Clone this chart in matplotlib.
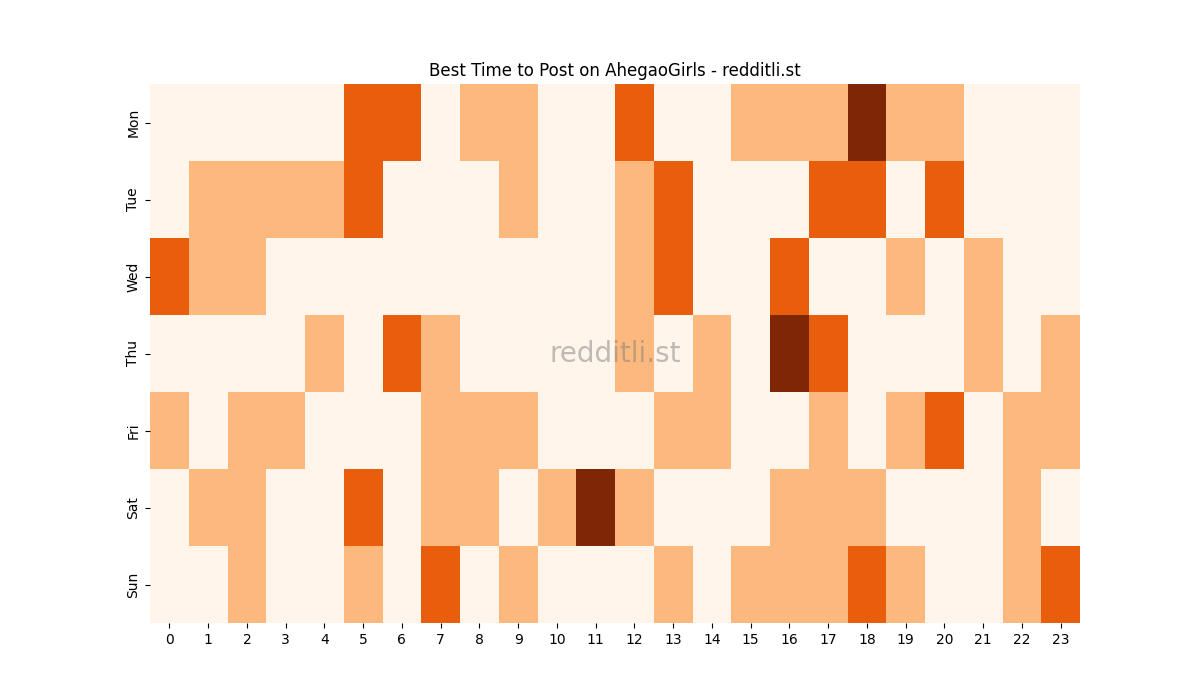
import numpy as np
import matplotlib
matplotlib.use("Agg")
import matplotlib.pyplot as plt

days = ["Mon", "Tue", "Wed", "Thu", "Fri", "Sat", "Sun"]
hours = list(range(24))

# activity level per hour (0-3)
mon = [0, 0, 0, 0, 0, 2, 2, 0, 1, 1, 0, 0, 2, 0, 0, 1, 1, 1, 3, 1, 1, 0, 0, 0]
tue = [0, 1, 1, 1, 1, 2, 0, 0, 0, 1, 0, 0, 1, 2, 0, 0, 0, 2, 2, 0, 2, 0, 0, 0]
wed = [2, 1, 1, 0, 0, 0, 0, 0, 0, 0, 0, 0, 1, 2, 0, 0, 2, 0, 0, 1, 0, 1, 0, 0]
thu = [0, 0, 0, 0, 1, 0, 2, 1, 0, 0, 0, 0, 1, 0, 1, 0, 3, 2, 0, 0, 0, 1, 0, 1]
fri = [1, 0, 1, 1, 0, 0, 0, 1, 1, 1, 0, 0, 0, 1, 1, 0, 0, 1, 0, 1, 2, 0, 1, 1]
sat = [0, 1, 1, 0, 0, 2, 0, 1, 1, 0, 1, 3, 1, 0, 0, 0, 1, 1, 1, 0, 0, 0, 1, 0]
sun = [0, 0, 1, 0, 0, 1, 0, 2, 0, 1, 0, 0, 0, 1, 0, 1, 1, 1, 2, 1, 0, 0, 1, 2]

grid = np.array([mon, tue, wed, thu, fri, sat, sun])

fig = plt.figure(figsize=(12, 7), dpi=100)
ax = fig.add_subplot(111)
ax.pcolormesh(grid, cmap="Oranges", vmin=0, vmax=3)
ax.set_xlim(0, 24)
ax.set_ylim(7, 0)
ax.set_xticks(np.arange(24) + 0.5)
ax.set_xticklabels([str(h) for h in hours])
ax.set_yticks(np.arange(7) + 0.5)
ax.set_yticklabels(days, rotation=90, va="center")
for s in ax.spines.values():
    s.set_visible(False)
ax.set_title("Best Time to Post on AhegaoGirls - redditli.st")
ax.text(0.5, 0.5, "redditli.st", transform=ax.transAxes, ha="center", va="center",
        fontsize=20, color="gray", alpha=0.5)

fig.savefig("out.png")
